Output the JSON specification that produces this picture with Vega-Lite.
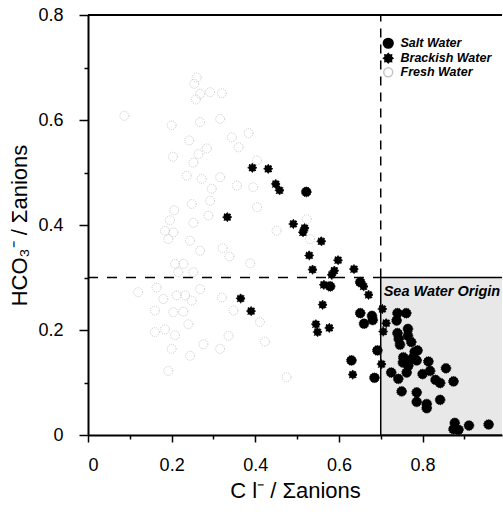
{
  "$schema": "https://vega.github.io/schema/vega-lite/v6.json",
  "width": 414,
  "height": 420,
  "autosize": {"type": "none"},
  "padding": {"left": 88, "top": 15, "right": 1, "bottom": 82},
  "background": "white",
  "config": {
    "view": {"stroke": null},
    "font": "Liberation Sans",
    "axis": {"grid": false, "domainColor": "black", "domainWidth": 2, "tickColor": "black", "tickWidth": 1.5, "labelColor": "black", "titleColor": "black", "labelFont": "Liberation Sans", "titleFont": "Liberation Sans", "labelFontSize": 18, "titleFontSize": 22, "titleFontWeight": "normal"}
  },
  "data": {"values": [
    {"Cl": 0.26, "HCO3": 0.681, "Type": "Fresh Water"},
    {"Cl": 0.254, "HCO3": 0.669, "Type": "Fresh Water"},
    {"Cl": 0.292, "HCO3": 0.653, "Type": "Fresh Water"},
    {"Cl": 0.268, "HCO3": 0.65, "Type": "Fresh Water"},
    {"Cl": 0.32, "HCO3": 0.651, "Type": "Fresh Water"},
    {"Cl": 0.258, "HCO3": 0.639, "Type": "Fresh Water"},
    {"Cl": 0.316, "HCO3": 0.602, "Type": "Fresh Water"},
    {"Cl": 0.268, "HCO3": 0.596, "Type": "Fresh Water"},
    {"Cl": 0.2, "HCO3": 0.59, "Type": "Fresh Water"},
    {"Cl": 0.087, "HCO3": 0.608, "Type": "Fresh Water"},
    {"Cl": 0.344, "HCO3": 0.567, "Type": "Fresh Water"},
    {"Cl": 0.384, "HCO3": 0.575, "Type": "Fresh Water"},
    {"Cl": 0.242, "HCO3": 0.561, "Type": "Fresh Water"},
    {"Cl": 0.36, "HCO3": 0.548, "Type": "Fresh Water"},
    {"Cl": 0.284, "HCO3": 0.546, "Type": "Fresh Water"},
    {"Cl": 0.264, "HCO3": 0.535, "Type": "Fresh Water"},
    {"Cl": 0.203, "HCO3": 0.53, "Type": "Fresh Water"},
    {"Cl": 0.252, "HCO3": 0.519, "Type": "Fresh Water"},
    {"Cl": 0.404, "HCO3": 0.523, "Type": "Fresh Water"},
    {"Cl": 0.236, "HCO3": 0.494, "Type": "Fresh Water"},
    {"Cl": 0.272, "HCO3": 0.488, "Type": "Fresh Water"},
    {"Cl": 0.316, "HCO3": 0.491, "Type": "Fresh Water"},
    {"Cl": 0.356, "HCO3": 0.475, "Type": "Fresh Water"},
    {"Cl": 0.395, "HCO3": 0.472, "Type": "Fresh Water"},
    {"Cl": 0.296, "HCO3": 0.469, "Type": "Fresh Water"},
    {"Cl": 0.248, "HCO3": 0.44, "Type": "Fresh Water"},
    {"Cl": 0.292, "HCO3": 0.446, "Type": "Fresh Water"},
    {"Cl": 0.206, "HCO3": 0.428, "Type": "Fresh Water"},
    {"Cl": 0.288, "HCO3": 0.418, "Type": "Fresh Water"},
    {"Cl": 0.196, "HCO3": 0.409, "Type": "Fresh Water"},
    {"Cl": 0.252, "HCO3": 0.404, "Type": "Fresh Water"},
    {"Cl": 0.184, "HCO3": 0.389, "Type": "Fresh Water"},
    {"Cl": 0.204, "HCO3": 0.386, "Type": "Fresh Water"},
    {"Cl": 0.192, "HCO3": 0.373, "Type": "Fresh Water"},
    {"Cl": 0.244, "HCO3": 0.37, "Type": "Fresh Water"},
    {"Cl": 0.268, "HCO3": 0.351, "Type": "Fresh Water"},
    {"Cl": 0.322, "HCO3": 0.356, "Type": "Fresh Water"},
    {"Cl": 0.404, "HCO3": 0.434, "Type": "Fresh Water"},
    {"Cl": 0.338, "HCO3": 0.34, "Type": "Fresh Water"},
    {"Cl": 0.388, "HCO3": 0.327, "Type": "Fresh Water"},
    {"Cl": 0.208, "HCO3": 0.326, "Type": "Fresh Water"},
    {"Cl": 0.228, "HCO3": 0.326, "Type": "Fresh Water"},
    {"Cl": 0.216, "HCO3": 0.31, "Type": "Fresh Water"},
    {"Cl": 0.252, "HCO3": 0.31, "Type": "Fresh Water"},
    {"Cl": 0.164, "HCO3": 0.281, "Type": "Fresh Water"},
    {"Cl": 0.268, "HCO3": 0.278, "Type": "Fresh Water"},
    {"Cl": 0.212, "HCO3": 0.266, "Type": "Fresh Water"},
    {"Cl": 0.232, "HCO3": 0.266, "Type": "Fresh Water"},
    {"Cl": 0.18, "HCO3": 0.259, "Type": "Fresh Water"},
    {"Cl": 0.248, "HCO3": 0.256, "Type": "Fresh Water"},
    {"Cl": 0.32, "HCO3": 0.262, "Type": "Fresh Water"},
    {"Cl": 0.16, "HCO3": 0.237, "Type": "Fresh Water"},
    {"Cl": 0.204, "HCO3": 0.234, "Type": "Fresh Water"},
    {"Cl": 0.228, "HCO3": 0.235, "Type": "Fresh Water"},
    {"Cl": 0.348, "HCO3": 0.237, "Type": "Fresh Water"},
    {"Cl": 0.24, "HCO3": 0.211, "Type": "Fresh Water"},
    {"Cl": 0.411, "HCO3": 0.215, "Type": "Fresh Water"},
    {"Cl": 0.16, "HCO3": 0.196, "Type": "Fresh Water"},
    {"Cl": 0.184, "HCO3": 0.201, "Type": "Fresh Water"},
    {"Cl": 0.208, "HCO3": 0.19, "Type": "Fresh Water"},
    {"Cl": 0.336, "HCO3": 0.189, "Type": "Fresh Water"},
    {"Cl": 0.276, "HCO3": 0.173, "Type": "Fresh Water"},
    {"Cl": 0.423, "HCO3": 0.178, "Type": "Fresh Water"},
    {"Cl": 0.2, "HCO3": 0.164, "Type": "Fresh Water"},
    {"Cl": 0.316, "HCO3": 0.164, "Type": "Fresh Water"},
    {"Cl": 0.244, "HCO3": 0.151, "Type": "Fresh Water"},
    {"Cl": 0.192, "HCO3": 0.122, "Type": "Fresh Water"},
    {"Cl": 0.12, "HCO3": 0.272, "Type": "Fresh Water"},
    {"Cl": 0.475, "HCO3": 0.11, "Type": "Fresh Water"},
    {"Cl": 0.523, "HCO3": 0.411, "Type": "Fresh Water"},
    {"Cl": 0.531, "HCO3": 0.373, "Type": "Fresh Water"},
    {"Cl": 0.451, "HCO3": 0.389, "Type": "Fresh Water"},
    {"Cl": 0.393, "HCO3": 0.509, "Type": "Brackish Water"},
    {"Cl": 0.431, "HCO3": 0.507, "Type": "Brackish Water"},
    {"Cl": 0.449, "HCO3": 0.478, "Type": "Brackish Water"},
    {"Cl": 0.458, "HCO3": 0.466, "Type": "Brackish Water"},
    {"Cl": 0.333, "HCO3": 0.415, "Type": "Brackish Water"},
    {"Cl": 0.491, "HCO3": 0.402, "Type": "Brackish Water"},
    {"Cl": 0.514, "HCO3": 0.386, "Type": "Brackish Water"},
    {"Cl": 0.518, "HCO3": 0.394, "Type": "Brackish Water"},
    {"Cl": 0.558, "HCO3": 0.369, "Type": "Brackish Water"},
    {"Cl": 0.529, "HCO3": 0.342, "Type": "Brackish Water"},
    {"Cl": 0.537, "HCO3": 0.315, "Type": "Brackish Water"},
    {"Cl": 0.598, "HCO3": 0.333, "Type": "Brackish Water"},
    {"Cl": 0.589, "HCO3": 0.313, "Type": "Brackish Water"},
    {"Cl": 0.583, "HCO3": 0.305, "Type": "Brackish Water"},
    {"Cl": 0.636, "HCO3": 0.316, "Type": "Brackish Water"},
    {"Cl": 0.564, "HCO3": 0.286, "Type": "Brackish Water"},
    {"Cl": 0.365, "HCO3": 0.26, "Type": "Brackish Water"},
    {"Cl": 0.39, "HCO3": 0.236, "Type": "Brackish Water"},
    {"Cl": 0.561, "HCO3": 0.248, "Type": "Brackish Water"},
    {"Cl": 0.545, "HCO3": 0.211, "Type": "Brackish Water"},
    {"Cl": 0.549, "HCO3": 0.196, "Type": "Brackish Water"},
    {"Cl": 0.577, "HCO3": 0.204, "Type": "Brackish Water"},
    {"Cl": 0.633, "HCO3": 0.115, "Type": "Brackish Water"},
    {"Cl": 0.671, "HCO3": 0.267, "Type": "Brackish Water"},
    {"Cl": 0.704, "HCO3": 0.24, "Type": "Brackish Water"},
    {"Cl": 0.713, "HCO3": 0.213, "Type": "Brackish Water"},
    {"Cl": 0.706, "HCO3": 0.197, "Type": "Brackish Water"},
    {"Cl": 0.702, "HCO3": 0.135, "Type": "Brackish Water"},
    {"Cl": 0.659, "HCO3": 0.283, "Type": "Brackish Water"},
    {"Cl": 0.522, "HCO3": 0.463, "Type": "Salt Water"},
    {"Cl": 0.579, "HCO3": 0.283, "Type": "Salt Water"},
    {"Cl": 0.651, "HCO3": 0.291, "Type": "Salt Water"},
    {"Cl": 0.651, "HCO3": 0.232, "Type": "Salt Water"},
    {"Cl": 0.679, "HCO3": 0.227, "Type": "Salt Water"},
    {"Cl": 0.681, "HCO3": 0.219, "Type": "Salt Water"},
    {"Cl": 0.66, "HCO3": 0.212, "Type": "Salt Water"},
    {"Cl": 0.63, "HCO3": 0.142, "Type": "Salt Water"},
    {"Cl": 0.685, "HCO3": 0.109, "Type": "Salt Water"},
    {"Cl": 0.692, "HCO3": 0.161, "Type": "Salt Water"},
    {"Cl": 0.74, "HCO3": 0.232, "Type": "Salt Water"},
    {"Cl": 0.761, "HCO3": 0.232, "Type": "Salt Water"},
    {"Cl": 0.738, "HCO3": 0.218, "Type": "Salt Water"},
    {"Cl": 0.74, "HCO3": 0.194, "Type": "Salt Water"},
    {"Cl": 0.743, "HCO3": 0.183, "Type": "Salt Water"},
    {"Cl": 0.746, "HCO3": 0.172, "Type": "Salt Water"},
    {"Cl": 0.765, "HCO3": 0.202, "Type": "Salt Water"},
    {"Cl": 0.765, "HCO3": 0.189, "Type": "Salt Water"},
    {"Cl": 0.773, "HCO3": 0.177, "Type": "Salt Water"},
    {"Cl": 0.754, "HCO3": 0.148, "Type": "Salt Water"},
    {"Cl": 0.753, "HCO3": 0.138, "Type": "Salt Water"},
    {"Cl": 0.781, "HCO3": 0.158, "Type": "Salt Water"},
    {"Cl": 0.788, "HCO3": 0.161, "Type": "Salt Water"},
    {"Cl": 0.774, "HCO3": 0.145, "Type": "Salt Water"},
    {"Cl": 0.766, "HCO3": 0.132, "Type": "Salt Water"},
    {"Cl": 0.762, "HCO3": 0.119, "Type": "Salt Water"},
    {"Cl": 0.786, "HCO3": 0.142, "Type": "Salt Water"},
    {"Cl": 0.814, "HCO3": 0.14, "Type": "Salt Water"},
    {"Cl": 0.818, "HCO3": 0.122, "Type": "Salt Water"},
    {"Cl": 0.725, "HCO3": 0.119, "Type": "Salt Water"},
    {"Cl": 0.742, "HCO3": 0.107, "Type": "Salt Water"},
    {"Cl": 0.8, "HCO3": 0.116, "Type": "Salt Water"},
    {"Cl": 0.831, "HCO3": 0.105, "Type": "Salt Water"},
    {"Cl": 0.842, "HCO3": 0.099, "Type": "Salt Water"},
    {"Cl": 0.856, "HCO3": 0.127, "Type": "Salt Water"},
    {"Cl": 0.874, "HCO3": 0.102, "Type": "Salt Water"},
    {"Cl": 0.75, "HCO3": 0.083, "Type": "Salt Water"},
    {"Cl": 0.786, "HCO3": 0.081, "Type": "Salt Water"},
    {"Cl": 0.786, "HCO3": 0.063, "Type": "Salt Water"},
    {"Cl": 0.81, "HCO3": 0.059, "Type": "Salt Water"},
    {"Cl": 0.81, "HCO3": 0.051, "Type": "Salt Water"},
    {"Cl": 0.842, "HCO3": 0.067, "Type": "Salt Water"},
    {"Cl": 0.877, "HCO3": 0.023, "Type": "Salt Water"},
    {"Cl": 0.874, "HCO3": 0.011, "Type": "Salt Water"},
    {"Cl": 0.886, "HCO3": 0.01, "Type": "Salt Water"},
    {"Cl": 0.911, "HCO3": 0.018, "Type": "Salt Water"},
    {"Cl": 0.958, "HCO3": 0.02, "Type": "Salt Water"}
  ]},
  "layer": [
    {
      "data": {"values": [{}]},
      "mark": {"type": "rect", "fill": "#e8e8e8", "stroke": "black", "strokeWidth": 1.5, "clip": true},
      "encoding": {
        "x": {"datum": 0.7, "type": "quantitative"},
        "x2": {"datum": 1.05},
        "y": {"datum": 0, "type": "quantitative"},
        "y2": {"datum": 0.3}
      }
    },
    {
      "data": {"values": [{}]},
      "mark": {"type": "rule", "color": "black", "strokeWidth": 1.5, "strokeDash": [10, 9]},
      "encoding": {
        "x": {"datum": 0, "type": "quantitative"},
        "x2": {"datum": 0.7},
        "y": {"datum": 0.3, "type": "quantitative"}
      }
    },
    {
      "data": {"values": [{}]},
      "mark": {"type": "rule", "color": "black", "strokeWidth": 1.5, "strokeDash": [9, 7]},
      "encoding": {
        "x": {"datum": 0.7, "type": "quantitative"},
        "y": {"datum": 0.3, "type": "quantitative"},
        "y2": {"datum": 0.8}
      }
    },
    {
      "data": {"values": [{}]},
      "mark": {"type": "rule", "color": "black", "strokeWidth": 2},
      "encoding": {
        "y": {"datum": 0.8, "type": "quantitative"}
      }
    },
    {
      "mark": {"type": "point", "filled": true, "strokeWidth": 1, "strokeDash": [1, 1.2], "opacity": 1, "clip": true},
      "encoding": {
        "x": {
          "field": "Cl", "type": "quantitative",
          "scale": {"domain": [0, 0.99], "nice": false, "zero": false},
          "axis": {
            "title": "C l⁻ / Σanions",
            "values": [0, 0.1, 0.2, 0.3, 0.4, 0.5, 0.6, 0.7, 0.8, 0.9],
            "labelExpr": "round(datum.value*10) % 2 == 0 ? (datum.value == 0 ? '0' : format(datum.value, '.1f')) : ''",
            "tickSize": {"condition": {"test": "round(datum.value*10) % 2 == 1", "value": 4}, "value": 7},
            "labelPadding": 14,
            "titlePadding": 6
          }
        },
        "y": {
          "field": "HCO3", "type": "quantitative",
          "scale": {"domain": [0, 0.8], "nice": false},
          "axis": {
            "title": "HCO₃⁻ / Σanions",
            "values": [0, 0.1, 0.2, 0.3, 0.4, 0.5, 0.6, 0.7, 0.8],
            "labelExpr": "round(datum.value*10) % 2 == 0 ? (datum.value == 0 ? '0' : format(datum.value, '.1f')) : ''",
            "tickSize": {"condition": {"test": "round(datum.value*10) % 2 == 1", "value": 4}, "value": 9},
            "labelPadding": 16,
            "titlePadding": 6
          }
        },
        "shape": {
          "field": "Type", "type": "nominal", "title": null,
          "scale": {"domain": ["Salt Water", "Brackish Water", "Fresh Water"], "range": ["circle", "M0,-1L0.276,-0.665L0.707,-0.707L0.665,-0.276L1,0L0.665,0.276L0.707,0.707L0.276,0.665L0,1L-0.276,0.665L-0.707,0.707L-0.665,0.276L-1,0L-0.665,-0.276L-0.707,-0.707L-0.276,-0.665Z", "circle"]},
          "legend": {
            "orient": "none", "legendX": 294, "legendY": 22, "padding": 0,
            "labelFont": "Liberation Sans", "labelFontStyle": "italic", "labelFontWeight": "bold", "labelFontSize": 12.5, "labelColor": "black",
            "rowPadding": -3, "labelOffset": 6
          }
        },
        "fill": {
          "field": "Type", "type": "nominal", "title": null,
          "scale": {"domain": ["Salt Water", "Brackish Water", "Fresh Water"], "range": ["black", "black", "transparent"]}
        },
        "stroke": {
          "field": "Type", "type": "nominal", "title": null,
          "scale": {"domain": ["Salt Water", "Brackish Water", "Fresh Water"], "range": ["black", "black", "#c6c6c6"]}
        },
        "size": {
          "field": "Type", "type": "nominal", "title": null,
          "scale": {"domain": ["Salt Water", "Brackish Water", "Fresh Water"], "range": [95, 80, 45]}
        }
      }
    },
    {
      "data": {"values": [{"label": "Sea Water Origin"}]},
      "mark": {"type": "text", "align": "left", "baseline": "middle", "font": "Liberation Sans", "fontStyle": "italic", "fontWeight": "bold", "fontSize": 14.5, "color": "black"},
      "encoding": {
        "x": {"datum": 0.707, "type": "quantitative"},
        "y": {"datum": 0.272, "type": "quantitative"},
        "text": {"field": "label"}
      }
    }
  ]
}
